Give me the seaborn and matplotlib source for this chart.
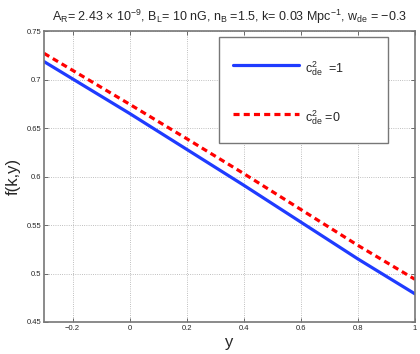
import pandas as pd
import matplotlib
matplotlib.use("Agg")
import matplotlib.pyplot as plt
from matplotlib.patches import Rectangle
import seaborn as sns

# values
y_vals = [-0.3, 0.0, 0.2, 0.4, 0.6, 0.8, 1.0]
f_c1 = [0.7185, 0.665, 0.628, 0.591, 0.553, 0.515, 0.479]
f_c0 = [0.727, 0.6745, 0.639, 0.603, 0.566, 0.529, 0.494]

x_ticks = [-0.2, 0, 0.2, 0.4, 0.6, 0.8, 1]
x_ticklabels = ["\u22120.2", "0", "0.2", "0.4", "0.6", "0.8", "1"]
y_ticks = [0.45, 0.5, 0.55, 0.6, 0.65, 0.7, 0.75]
y_ticklabels = ["0.45", "0.5", "0.55", "0.6", "0.65", "0.7", "0.75"]

sns.set_style("ticks")
plt.rcParams['font.family'] = ['Liberation Sans', 'DejaVu Sans']
plt.rcParams['mathtext.fontset'] = 'custom'
plt.rcParams['mathtext.rm'] = 'Liberation Sans'
plt.rcParams['mathtext.it'] = 'Liberation Sans:italic'
plt.rcParams['mathtext.default'] = 'regular'


def plot_growth(df1, df0):
    fig = plt.figure(figsize=(4.2, 3.54), dpi=100)
    ax = fig.add_axes([0.1048, 0.0904, 0.8832, 0.822])

    sns.lineplot(data=df1, x='y', y='f', ax=ax, color='#1f3bff', lw=2.3,
                 label=r'c$^2_{de}$  =1')
    sns.lineplot(data=df0, x='y', y='f', ax=ax, color='#ff0000', lw=2.3,
                 dashes=(1.9, 1.3), label=r'c$^2_{de}$ =0')

    ax.set_xlim(-0.3, 1)
    ax.set_ylim(0.45, 0.75)
    ax.set_xticks(x_ticks)
    ax.set_xticklabels(x_ticklabels)
    ax.set_yticks(y_ticks)
    ax.set_yticklabels(y_ticklabels)
    ax.tick_params(direction='in', length=3, width=0.6, color='#555555',
                   labelsize=5.5, top=True, right=True, pad=2)
    ax.grid(True, linestyle=':', linewidth=0.6, color='#aaaaaa')
    for s in ax.spines.values():
        s.set_color('#777777')
        s.set_linewidth(1.2)

    ax.set_xlabel('y', fontsize=12, labelpad=2)
    ax.set_ylabel('f(k,y)', fontsize=12, labelpad=4)
    ax.set_title(r'A$_R$= 2.43 $\times$ 10$^{-9}$, B$_L$= 10 nG, n$_B$ =1.5, '
                 r'k= 0.03 Mpc$^{-1}$, w$_{de}$ = $-$0.3', fontsize=9, pad=7)

    # legend box frame
    ax.add_patch(Rectangle((0.472, 0.615), 0.455, 0.364, transform=ax.transAxes,
                           facecolor='white', edgecolor='#777777', lw=1.0, zorder=4))
    leg = ax.legend(loc='upper left', bbox_to_anchor=(0.472, 0.955),
                    borderaxespad=0, fontsize=9, frameon=False,
                    handlelength=5.3, handletextpad=0.5, handleheight=2.28,
                    labelspacing=2.2, borderpad=1.1)
    leg.set_zorder(5)

    fig.savefig('out.png', dpi=100)


def main():
    df1 = pd.DataFrame({'y': y_vals, 'f': f_c1})
    df0 = pd.DataFrame({'y': y_vals, 'f': f_c0})
    plot_growth(df1, df0)


if __name__ == "__main__":
    main()
